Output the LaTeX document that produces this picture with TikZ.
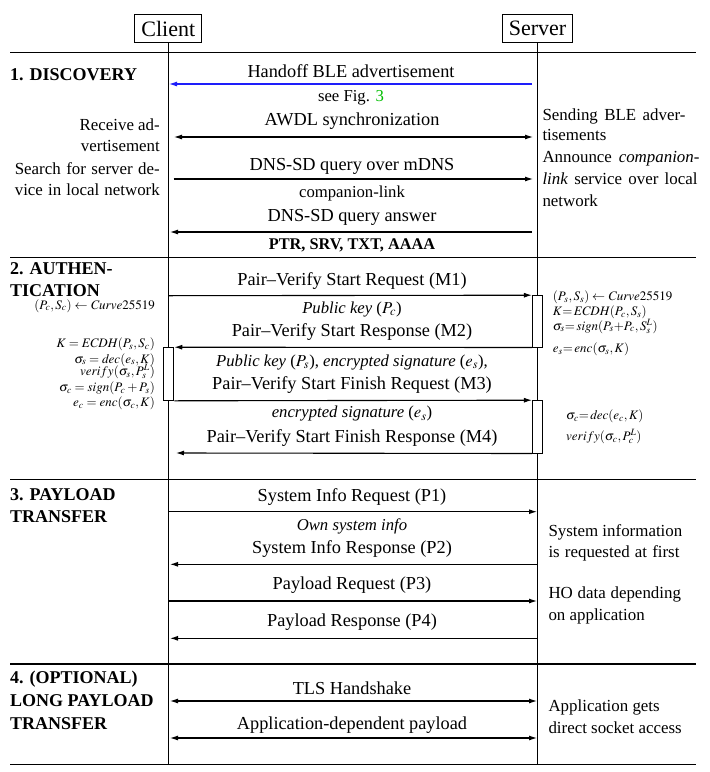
\documentclass[tikz,border=0pt]{standalone}
\usepackage{mathptmx}
\usepackage{fontspec}
\setmainfont{Liberation Serif}
\usetikzlibrary{arrows.meta}
\definecolor{msgblue}{RGB}{30,30,250}
\definecolor{refgreen}{RGB}{0,190,0}
\begin{document}
\begin{tikzpicture}[x=1pt,y=-1pt,
  lbl/.style={anchor=base,inner sep=0pt,font=\fontsize{18.3}{22}\selectfont},
  sublbl/.style={anchor=base,inner sep=0pt,font=\fontsize{16.7}{20}\selectfont},
  sidel/.style={anchor=base east,inner sep=0pt,font=\fontsize{16.9}{21}\selectfont},
  sider/.style={anchor=base west,inner sep=0pt,font=\fontsize{16.9}{21}\selectfont},
  head/.style={anchor=base west,inner sep=0pt,font=\fontsize{18}{22}\selectfont\bfseries},
  mthl/.style={anchor=base east,inner sep=0pt,font=\fontsize{13}{15}\selectfont},
  mthr/.style={anchor=base west,inner sep=0pt,font=\fontsize{13}{15}\selectfont},
  actor/.style={draw,line width=1pt,minimum height=28pt,inner sep=0pt,font=\fontsize{22}{26}\selectfont},
  life/.style={line width=1pt},
  sep/.style={line width=1.3pt},
  msg/.style={line width=1.1pt,-{Latex[length=8pt,width=5pt]}},
  dmsg/.style={line width=1.1pt,{Latex[length=8pt,width=5pt]}-{Latex[length=8pt,width=5pt]}},
  actbox/.style={draw,fill=white,line width=1pt,inner sep=0pt,minimum width=10.5pt}
]
\useasboundingbox (0,0) rectangle (710,772);

% actors and lifelines
\node[actor,minimum width=66.7pt] (C) at (168.3,28.7) {Client};
\node[actor,minimum width=70pt] (S) at (537.5,28.7) {Server};
\coordinate (Cend) at (168.3,764.3);
\coordinate (Send) at (537.5,764.3);
\draw[life] (C.south) -- (Cend);
\draw[life] (S.south) -- (Send);

% separators
\draw[sep] (10,52.3) -- (696,52.3);
\draw[sep] (10,257.7) -- (696,257.7);
\draw[sep] (10,479.3) -- (696,479.3);
\draw[sep] (10,664) -- (696,664);
\draw[sep] (10,764.3) -- (696,764.3);

% headings
\node[head] (h1) at (10,80) {1. DISCOVERY};
\node[head] (h2a) at (10,274) {2. AUTHEN-};
\node[head] (h2b) at (10,296) {TICATION};
\node[head] (h3a) at (10,500.7) {3. PAYLOAD};
\node[head] (h3b) at (10,522.7) {TRANSFER};
\node[head] (h4a) at (10,683.5) {4. (OPTIONAL)};
\node[head] (h4b) at (10,706.5) {LONG PAYLOAD};
\node[head] (h4c) at (10,729) {TRANSFER};

% ---------- section 1
\node[lbl] (l1) at (351,77) {Handoff BLE advertisement};
\node[sublbl] (l2) at (351,101.5) {see Fig. \textcolor{refgreen}{3}};
\node[lbl] (l3) at (352,125) {AWDL synchronization};
\node[lbl] (l4) at (352,170) {DNS-SD query over mDNS};
\node[sublbl] (l5) at (352,197) {companion-link};
\node[lbl] (l6) at (352,221.5) {DNS-SD query answer};
\node[sublbl,font=\fontsize{16.3}{20}\selectfont\bfseries] (l7) at (352,249) {PTR, SRV, TXT, AAAA};

\coordinate (a1s) at (532,84);   \coordinate (a1e) at (169,84);
\coordinate (a2s) at (174,137);  \coordinate (a2e) at (533,137);
\coordinate (a3s) at (173.7,179);\coordinate (a3e) at (533,179);
\coordinate (a4s) at (532,232);  \coordinate (a4e) at (170,232);
\draw[msg,msgblue] (a1s) -- (a1e);
\draw[dmsg] (a2s) -- (a2e);
\draw[msg] (a3s) -- (a3e);
\draw[msg] (a4s) -- (a4e);

\node[sidel] (t1) at (160,130.7) {Receive ad-};
\node[sidel] (t2) at (160,151.7) {vertisement};
\node[sidel] (t3) at (160,174) {\makebox[145pt][s]{Search for server de-}};
\node[sidel] (t4) at (160,195.7) {\makebox[145pt][s]{vice in local network}};

\node[sider] (r1) at (542.3,120) {\makebox[143pt][s]{Sending BLE adver-}};
\node[sider] (r2) at (542.3,140) {tisements};
\node[sider] (r3) at (542.3,162.7) {\makebox[157pt][s]{Announce \textit{companion-}}};
\node[sider] (r4) at (542.3,184.3) {\makebox[155pt][s]{\textit{link} service over local}};
\node[sider] (r5) at (542.3,206) {network};

% ---------- section 2
\node[actbox,minimum height=51.3pt] (ASa) at (537.7,321.35) {};
\node[actbox,minimum height=52.6pt] (AC) at (168.5,374) {};
\node[actbox,minimum height=52.3pt] (ASb) at (537.7,426.85) {};

\node[lbl] (m1) at (352,285) {Pair--Verify Start Request (M1)};
\node[sublbl] (m2a) at (352,313.3) {\textit{Public key} (\(P_c\))};
\node[lbl] (m2) at (352,336.7) {Pair--Verify Start Response (M2)};
\node[sublbl] (m3a) at (352,366) {\textit{Public key} (\(P_s\)), \textit{encrypted signature} (\(e_s\)),};
\node[lbl] (m3) at (352,389.3) {Pair--Verify Start Finish Request (M3)};
\node[sublbl] (m4a) at (352,417.7) {\textit{encrypted signature} (\(e_s\))};
\node[lbl] (m4) at (352,442.7) {Pair--Verify Start Finish Response (M4)};

\coordinate (b1s) at (168.3,295.7);
\coordinate (b4e) at (176,453);
\draw[msg] (b1s) -- (ASa.north west);
\draw[msg] (ASa.south west) -- (AC.north east);
\draw[msg] (AC.south east) -- (ASb.north west);
\draw[msg] (ASb.south west) -- (b4e);

\node[mthl] (x1) at (155,309) {\((P_c,S_c)\leftarrow \mathit{Curve}25519\)};
\node[mthl] (x2) at (155,347.5) {\(K=\mathit{ECDH}(P_s,S_c)\)};
\node[mthl] (x3) at (155,363) {\(\sigma_s=\mathit{dec}(e_s,K)\)};
\node[mthl] (x4) at (155,375.5) {\(verify(\sigma_s,P_s^L)\)};
\node[mthl] (x5) at (155,391.3) {\(\sigma_c=\mathit{sign}(P_c+P_s)\)};
\node[mthl] (x6) at (155,406.5) {\(e_c=\mathit{enc}(\sigma_c,K)\)};

\node[mthr] (y1) at (552.7,300.7) {\((P_s,S_s)\leftarrow \mathit{Curve}25519\)};
\node[mthr] (y2) at (552.7,315.5) {\(K{=}\,\mathit{ECDH}(P_c,S_s)\)};
\node[mthr] (y3) at (552.7,330) {\(\sigma_s{=}\,\mathit{sign}(P_s{+}P_c,S_s^L)\)};
\node[mthr] (y4) at (552.7,352.5) {\(e_s{=}\,\mathit{enc}(\sigma_s,K)\)};
\node[mthr] (y5) at (566,419.3) {\(\sigma_c{=}\,\mathit{dec}(e_c,K)\)};
\node[mthr] (y6) at (566,440.5) {\(verify(\sigma_c,P_c^L)\)};

% ---------- section 3
\node[lbl] (p1) at (352,501.5) {System Info Request (P1)};
\node[sublbl] (p2a) at (352,530) {\textit{Own system info}};
\node[lbl] (p2) at (352,553.5) {System Info Response (P2)};
\node[lbl] (p3) at (352,589.5) {Payload Request (P3)};
\node[lbl] (p4) at (352,626.5) {Payload Response (P4)};

\coordinate (c1s) at (168.3,511.7); \coordinate (c1e) at (537,511.7);
\coordinate (c2s) at (537.5,564.3); \coordinate (c2e) at (170,564.3);
\coordinate (c3s) at (168.3,601);   \coordinate (c3e) at (537,601);
\coordinate (c4s) at (537.5,638.3); \coordinate (c4e) at (170,638.3);
\draw[msg] (c1s) -- (c1e);
\draw[msg] (c2s) -- (c2e);
\draw[msg] (c3s) -- (c3e);
\draw[msg] (c4s) -- (c4e);

\node[sider] (s1) at (548.3,536.7) {System information};
\node[sider] (s2) at (548.3,557.7) {\makebox[131pt][s]{is requested at first}};
\node[sider] (s3) at (548.3,598.3) {\makebox[132.5pt][s]{HO data depending}};
\node[sider] (s4) at (548.3,620.7) {on application};

% ---------- section 4
\node[lbl] (q1) at (352,694.5) {TLS Handshake};
\node[lbl] (q2) at (352,729) {Application-dependent payload};
\coordinate (d1s) at (170,701); \coordinate (d1e) at (537,701);
\coordinate (d2s) at (170,738); \coordinate (d2e) at (537,738);
\draw[dmsg] (d1s) -- (d1e);
\draw[dmsg] (d2s) -- (d2e);

\node[sider] (s5) at (548.3,711.7) {Application gets};
\node[sider] (s6) at (548.3,733.3) {direct socket access};
\end{tikzpicture}
\end{document}
